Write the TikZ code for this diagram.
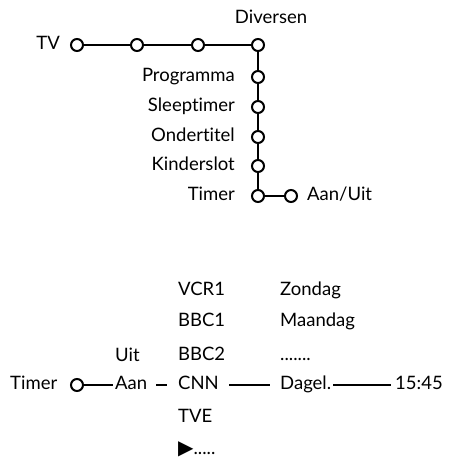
\documentclass[tikz,border=0pt]{standalone}
\usepackage{fontspec}
\setmainfont{Lato}[Ligatures=NoCommon]
\newfontfamily\symfont{DejaVu Sans}
\usetikzlibrary{positioning}

\begin{document}
\begin{tikzpicture}[x=1pt,y=-1pt,
  knot/.style={circle,draw,line width=2pt,minimum size=12pt,inner sep=0pt},
  lbl/.style={font=\fontsize{18.5}{22}\selectfont,inner sep=2pt,text height=13pt,text depth=4pt},
  wire/.style={line width=2pt}]
  \useasboundingbox (0,0) rectangle (452,461);
  % menu tree
  \node[knot] (tv) at (77,45) {};
  \node[knot] (m1) at (137,45) {};
  \node[knot] (m2) at (198,45) {};
  \node[knot] (div) at (258,45) {};
  \foreach \n/\y in {prog/77,sleep/107,onder/137,kind/166,timer/196}
    \node[knot] (\n) at (258,\y) {};
  \node[knot] (aanuit) at (291,196) {};
  \draw[wire] (tv) -- (m1) -- (m2) -- (div) -- (prog) -- (sleep) -- (onder) -- (kind) -- (timer) -- (aanuit);
  \node[lbl,left=8pt of tv] (tvl) {TV};
  \node[lbl] (divl) at (271,19) {Diversen};
  \foreach \n/\t in {prog/Programma,sleep/Sleeptimer,onder/Ondertitel,kind/Kinderslot,timer/Timer}
    \node[lbl,left=14pt of \n] (\n l) {\t};
  \node[lbl,right=7pt of aanuit] (aanuitl) {Aan/Uit};

  % timer settings
  \node[lbl,anchor=west] (tim) at (8,385) {Timer};
  \node[knot] (tk) at (77,385) {};
  \node[lbl,anchor=west] (aan) at (113,385) {Aan};
  \node[lbl,anchor=west] (uit) at (113,357) {Uit};
  \foreach \n/\y/\t in {vcr/291/VCR1,bbca/322/BBC1,bbcb/356/BBC2,cnn/385/CNN,tve/418/TVE}
    \node[lbl,anchor=west] (\n) at (176,\y) {\t};
  \node[lbl,anchor=west] (meer) at (176,450) {{\symfont\fontsize{20}{22}\selectfont ▶}{.....}};
  \foreach \n/\y/\t in {zon/291/Zondag,maa/322/Maandag,dagel/385/Dagel.}
    \node[lbl,anchor=west] (\n) at (278,\y) {\t};
  \node[lbl,anchor=west] (dag) at (278,356) {{.......}};
  \node[lbl,anchor=west] (tijd) at (393,385) {15:45};
  \draw[wire] (tk) -- (aan);
  \draw[wire,shorten <=7pt,shorten >=9pt] (aan) -- (cnn);
  \draw[wire,shorten <=8pt,shorten >=8pt] (cnn) -- (dagel);
  \draw[wire,shorten >=2pt] (dagel) -- (tijd);
\end{tikzpicture}
\end{document}
